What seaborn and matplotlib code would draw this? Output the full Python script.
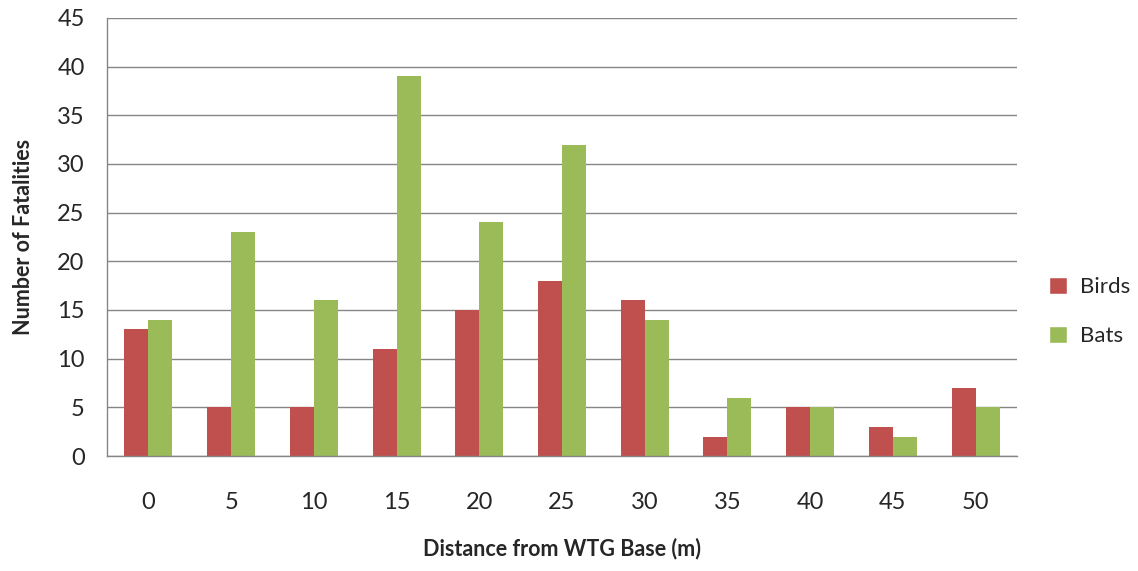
import numpy as np
import pandas as pd
import matplotlib
matplotlib.use("Agg")
import matplotlib.pyplot as plt
import seaborn as sns
from matplotlib.patches import Patch

# ---- data ----
distances = ["0", "5", "10", "15", "20", "25", "30", "35", "40", "45", "50"]
birds = [13, 5, 5, 11, 15, 18, 16, 2, 5, 3, 7]
bats = [14, 23, 16, 39, 24, 32, 14, 6, 5, 2, 5]
series_names = ["Birds", "Bats"]
colors = {"Birds": "#C0504D", "Bats": "#9BBB59"}
y_ticks = list(range(0, 50, 5))

df = pd.DataFrame({
    "distance": distances * 2,
    "count": birds + bats,
    "group": ["Birds"] * len(birds) + ["Bats"] * len(bats),
})

sns.set_theme(style="white")
plt.rcParams["font.family"] = ["Lato", "DejaVu Sans"]

fig = plt.figure(figsize=(11.38, 5.71), dpi=100)
ax = fig.add_axes([0.094, 0.2014, 0.7997, 0.7671])

sns.barplot(data=df, x="distance", y="count", hue="group", order=distances,
            hue_order=series_names, palette=colors, width=0.58, gap=0,
            saturation=1, linewidth=0, ax=ax, legend=False)

grid_c = "#868686"
ax.set_ylim(0, 45)
ax.set_xlim(-0.5, len(distances) - 0.5)
ax.set_yticks(y_ticks)
ax.set_yticklabels([str(v) for v in y_ticks], fontsize=17)
ax.yaxis.grid(True, color=grid_c, linewidth=1)
ax.set_axisbelow(True)

# category boundaries as major ticks, labels at centres
ax.set_xticks(np.arange(-0.5, len(distances), 1.0))
ax.set_xticklabels([])
ax.set_xticks(np.arange(len(distances)), minor=True)
ax.set_xticklabels(distances, minor=True, fontsize=17)
ax.tick_params(axis="x", which="major", length=8, color=grid_c, width=1, direction="out")
ax.tick_params(axis="x", which="minor", length=0, pad=26)
ax.tick_params(axis="y", length=7, color=grid_c, width=1, direction="out", pad=9)

for s in ["top", "right"]:
    ax.spines[s].set_visible(False)
for s in ["left", "bottom"]:
    ax.spines[s].set_color(grid_c)
    ax.spines[s].set_linewidth(1)

ax.set_xlabel("Distance from WTG Base (m)", fontsize=15.5, fontweight="bold", labelpad=18)
ax.set_ylabel("Number of Fatalities", fontsize=15.5, fontweight="bold", labelpad=17)

handles = [Patch(facecolor=colors[n], label=n) for n in series_names]
fig.legend(handles=handles, loc="center left", bbox_to_anchor=(0.922, 0.455),
           frameon=False, fontsize=16, handlelength=0.8, handleheight=0.8,
           handletextpad=0.6, labelspacing=1.3, borderpad=0, borderaxespad=0)

fig.savefig("out.png", dpi=100)
